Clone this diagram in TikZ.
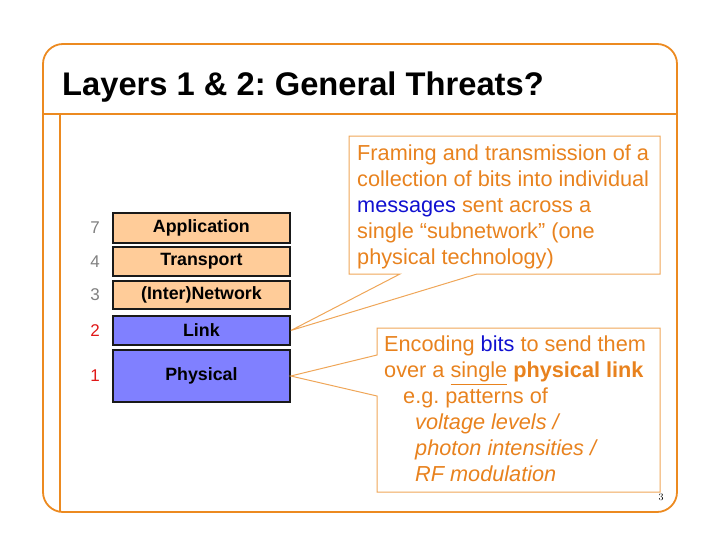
\documentclass[tikz,border=0pt]{standalone}
\usepackage{fontspec}
\setmainfont{Liberation Sans}
\frenchspacing
\definecolor{frameor}{HTML}{EC8A20}
\definecolor{callbd}{HTML}{EFA658}
\definecolor{calltx}{HTML}{E8821E}
\definecolor{layor}{HTML}{FFCC99}
\definecolor{layblue}{HTML}{8080FF}
\definecolor{numgray}{HTML}{808080}
\definecolor{numred}{HTML}{E01818}
\definecolor{msgblue}{HTML}{1010D0}
\begin{document}
\begin{tikzpicture}[x=1pt,y=-1pt,
  framestyle/.style={draw=frameor,line width=1.8pt},
  layerbox/.style={draw=black!90,line width=1.8pt,minimum width=177pt,inner sep=0pt,
     font=\fontsize{17.8}{20}\selectfont\bfseries},
  numlabel/.style={font=\fontsize{17}{20}\selectfont,inner sep=0pt},
  calloutline/.style={draw=callbd,line width=1pt},
  callouttext/.style={text=calltx,font=\fontsize{21.7}{26}\selectfont,align=left,inner sep=0pt,anchor=north west}]
\useasboundingbox (0,0) rectangle (720,557);
% frame
\draw[framestyle,rounded corners=20pt] (43,44) rectangle (677,512);
\draw[framestyle] (43,114) -- (677,114);
\draw[framestyle] (60,114) -- (60,512);
% title
\node[anchor=base west,inner sep=0pt,font=\fontsize{32.7}{36}\selectfont\bfseries] (title) at (62,95) {Layers 1 \& 2: General Threats?};
% layers
\node[layerbox,fill=layor,minimum height=30pt] (app) at (201.4,228) {\raisebox{-1pt}{Application}};
\node[layerbox,fill=layor,minimum height=29pt] (trans) at (201.4,261.5) {\raisebox{-1pt}{Transport}};
\node[layerbox,fill=layor,minimum height=28pt] (net) at (201.4,295) {\raisebox{-1pt}{(Inter)Network}};
\node[layerbox,fill=layblue,minimum height=29pt] (link) at (201.4,330.5) {\raisebox{-1pt}{Link}};
\node[layerbox,fill=layblue,minimum height=52pt] (phys) at (201.4,376) {\raisebox{-1pt}{Physical}};
\node[numlabel,text=numgray] (n7) at (95,228) {7};
\node[numlabel,text=numgray] (n4) at (95,261.5) {4};
\node[numlabel,text=numgray] (n3) at (95,295) {3};
\node[numlabel,text=numred] (n2) at (95,330.5) {2};
\node[numlabel,text=numred] (n1) at (95,376) {1};
% callout 1
\coordinate (c1a) at (349,136);
\coordinate (c1b) at (660,136);
\coordinate (c1c) at (660,274);
\coordinate (c1d) at (477,274);
\coordinate (c1e) at (400,274);
\coordinate (c1f) at (349,274);
\draw[calloutline] (c1a) -- (c1b) -- (c1c) -- (c1d) -- (link.east) -- (c1e) -- (c1f) -- cycle;
\node[callouttext] (t1) at (357,145) {Framing and transmission of a\\collection of bits into individual\\\textcolor{msgblue}{messages} sent across a\\single “subnetwork” (one\\physical technology)};
% callout 2
\coordinate (c2a) at (377,328);
\coordinate (c2b) at (660,328);
\coordinate (c2c) at (660,492);
\coordinate (c2d) at (377,492);
\coordinate (c2e) at (377,396);
\coordinate (c2f) at (377,355);
\draw[calloutline] (c2a) -- (c2b) -- (c2c) -- (c2d) -- (c2e) -- (phys.east) -- (c2f) -- cycle;
\node[callouttext] (t2) at (384,336) {Encoding \textcolor{msgblue}{bits} to send them\\over a \underline{single} \textbf{physical link}\\\hspace*{19pt}e.g. patterns of\\\hspace*{31pt}\textit{voltage levels /}\\\hspace*{31pt}\textit{photon intensities /}\\\hspace*{31pt}\textit{RF modulation}};
% page number
\node[font=\rmfamily\fontsize{10}{12}\selectfont,inner sep=0pt] (pg) at (661,497) {\fontspec{Latin Modern Roman}3};
\end{tikzpicture}
\end{document}
